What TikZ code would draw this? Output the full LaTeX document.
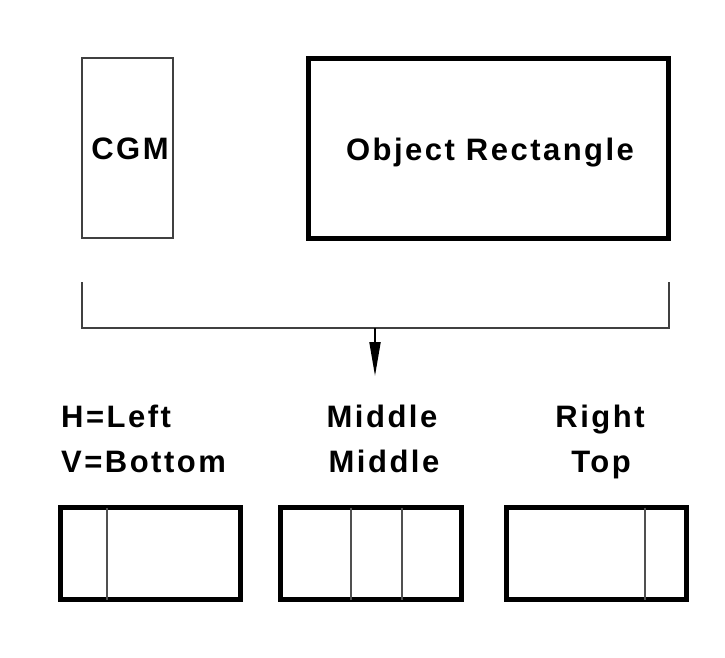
\documentclass[tikz,border=0pt]{standalone}
\usepackage{fontspec}
\setmainfont{Liberation Sans}[LetterSpace=8]
\usetikzlibrary{arrows.meta}
\definecolor{linegray}{HTML}{404040}
\definecolor{divgray}{HTML}{505050}
\begin{document}
\begin{tikzpicture}[x=1pt,y=-1pt,
  lbl/.style={font=\bfseries\fontsize{31}{31}\selectfont, inner sep=0pt, anchor=base},
  lbll/.style={lbl, anchor=base west},
  thinbox/.style={draw=linegray, line width=1.6pt, outer sep=0pt, minimum width=91pt, minimum height=180pt, inner sep=0pt},
  thickbox/.style={draw=black, line width=5pt, outer sep=0pt, inner sep=0pt},
  alignbox/.style={thickbox, minimum width=180pt, minimum height=92pt},
  divider/.style={draw=divgray, line width=2pt},
  bracket/.style={draw=linegray, line width=1.8pt},
  arrowline/.style={draw=black, line width=2pt, -{Triangle[length=34pt,width=11pt]}}
]
\useasboundingbox (0,0) rectangle (725,657);

% top boxes
\node[thinbox] (cgm) at (127.5,148) {};
\node[lbl] (cgmtext) at (130,159) {CGM};
\node[thickbox, minimum width=360pt, minimum height=180pt] (obj) at (488.5,148.5) {};
\node[lbl] (objtext) at (490,160) {Object Rectangle};

% bracket
\coordinate (bl) at (82,282);
\coordinate (blc) at (82,328);
\coordinate (brc) at (669,328);
\coordinate (br) at (669,282);
\coordinate (mid) at (375,328);
\coordinate (tip) at (375,376);
\draw[bracket] (bl) -- (blc) -- (brc) -- (br);
\draw[arrowline] (mid) -- (tip);

% labels
\node[lbll] (h1) at (61,427) {H=Left};
\node[lbll] (v1) at (61,472) {V=Bottom};
\node[lbl] (h2) at (382,427) {Middle};
\node[lbl] (v2) at (384,472) {Middle};
\node[lbl] (h3) at (600,427) {Right};
\node[lbl] (v3) at (601,472) {Top};

% alignment boxes
\node[alignbox] (b1) at (150.5,553.5) {};
\node[alignbox, minimum width=181pt] (b2) at (371,553.5) {};
\node[alignbox] (b3) at (596.5,553.5) {};
\draw[divider] (b1.north west) ++(46.5,0) -- ++(0,92);
\draw[divider] (b2.north west) ++(70,0) -- ++(0,92);
\draw[divider] (b2.north west) ++(121.5,0) -- ++(0,92);
\draw[divider] (b3.north west) ++(138.5,0) -- ++(0,92);
\end{tikzpicture}
\end{document}
